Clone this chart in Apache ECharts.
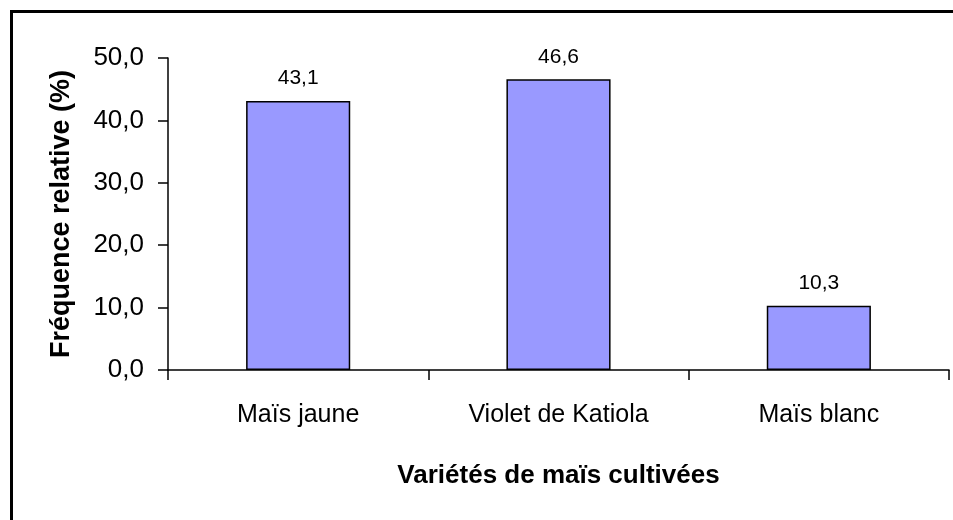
<!DOCTYPE html>
<html>
<head>
<meta charset="utf-8">
<script src="https://cdn.jsdelivr.net/npm/echarts@6/dist/echarts.min.js"></script>
<style>
  html, body { margin: 0; padding: 0; background: #fff; }
  #chart { width: 953px; height: 520px; }
</style>
</head>
<body>
<div id="chart"></div>
<script>
// données
const categories = ['Maïs jaune', 'Violet de Katiola', 'Maïs blanc']
const frequences = [43.1, 46.6, 10.3]
const yTicks = [0, 10, 20, 30, 40, 50]

const police = '"Liberation Sans", Arial, sans-serif'
const virgule = v => v.toFixed(1).replace('.', ',')

const myChart = echarts.init(document.getElementById('chart'))

const option = {
    animation: false,
    backgroundColor: '#fff',
    graphic: [
        {
            type: 'rect',
            left: 9, top: 9,
            shape: { width: 1100, height: 700 },
            style: { fill: 'none', stroke: '#000', lineWidth: 3 },
            silent: true
        }
    ],
    grid: { left: 168, right: 4, top: 58, bottom: 150 },
    xAxis: {
        type: 'category',
        data: categories,
        name: 'Variétés de maïs cultivées',
        nameLocation: 'middle',
        nameGap: 93,
        nameTextStyle: { fontFamily: police, fontWeight: 'bold', fontSize: 26, color: '#000' },
        axisLine: { lineStyle: { color: '#000', width: 1.5 } },
        axisTick: { show: true, length: 10, lineStyle: { color: '#000', width: 1.5 } },
        axisLabel: { interval: 0, margin: 33, fontFamily: police, fontSize: 25, color: '#000' }
    },
    yAxis: {
        type: 'value',
        min: yTicks[0],
        max: yTicks[yTicks.length - 1],
        interval: 10,
        name: 'Fréquence relative (%)',
        nameLocation: 'middle',
        nameGap: 93,
        nameTextStyle: { fontFamily: police, fontWeight: 'bold', fontSize: 27, color: '#000' },
        axisLine: { show: true, lineStyle: { color: '#000', width: 1.5 } },
        axisTick: { show: true, length: 10, lineStyle: { color: '#000', width: 1.5 } },
        splitLine: { show: false },
        axisLabel: { margin: 24, fontFamily: police, fontSize: 26, color: '#000', formatter: v => virgule(v) }
    },
    series: [
        {
            type: 'bar',
            data: frequences,
            barWidth: '40%',
            itemStyle: { color: '#9999FF', borderColor: '#000', borderWidth: 1.5 },
            label: {
                show: true,
                position: 'top',
                distance: 12,
                fontFamily: police,
                fontSize: 21,
                color: '#000',
                formatter: p => virgule(p.value)
            }
        }
    ]
}

myChart.setOption(option)
</script>
</body>
</html>
